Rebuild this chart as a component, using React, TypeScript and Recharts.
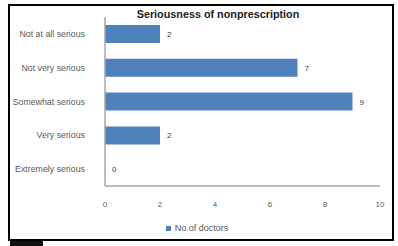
import React from "react";
import { BarChart, Bar, XAxis, YAxis, Legend } from "recharts";

const categories = [
  "Not at all serious",
  "Not very serious",
  "Somewhat serious",
  "Very serious",
  "Extremely serious",
];
const doctors = [2, 7, 9, 2, 0];
const xTicks = [0, 2, 4, 6, 8, 10];
const seriesName = "No.of doctors";
const title = "Seriousness of nonprescription";

const data = categories.map((c, i) => ({ name: c, value: doctors[i] }));

const FONT = "'Liberation Sans', Arial, sans-serif";
const GREY = "#595959";

const YTick = (props: any) => {
  const { x, y, payload } = props;
  return (
    <text x={x - 12} y={y} dy={3} textAnchor="end" fontSize={8.8} fill={GREY} fontFamily={FONT}>
      {payload.value}
    </text>
  );
};

const XTick = (props: any) => {
  const { x, y, payload } = props;
  return (
    <text x={x} y={y} dy={13} textAnchor="middle" fontSize={8} fill={GREY} fontFamily={FONT}>
      {payload.value}
    </text>
  );
};

const BarLabel = (props: any) => {
  const { x, y, width, height, value } = props;
  return (
    <text x={x + width + 7} y={y + height / 2} dy={3} fontSize={8} fill="#404040" fontFamily={FONT}>
      {value}
    </text>
  );
};

export default function App() {
  return (
    <div style={{ position: "absolute", left: 0, top: 0, width: 398, height: 246, background: "#fff", fontFamily: FONT }}>
      <div style={{ position: "absolute", left: 8, top: 4, width: 386, height: 237, border: "2px solid #000", boxSizing: "border-box" }} />
      <div style={{ position: "absolute", left: 10, top: 241, width: 33, height: 5, background: "#111" }} />
      <div style={{ position: "absolute", left: 0, top: 9, width: 436, textAlign: "center", fontSize: 10.8, fontWeight: "bold", color: "#222", lineHeight: "11px" }}>
        {title}
      </div>
      <div style={{ position: "absolute", left: 0, top: 0 }}>
        <BarChart
          width={398}
          height={246}
          layout="vertical"
          data={data}
          margin={{ top: 17, right: 18, left: 10, bottom: 30 }}
        >
          <XAxis
            type="number"
            domain={[0, 10]}
            ticks={xTicks}
            stroke="#a6a6a6"
            strokeWidth={1.5}
            axisLine={true}
            tickLine={false}
            tick={<XTick />}
            height={20}
          />
          <YAxis
            type="category"
            dataKey="name"
            width={95}
            stroke="#a6a6a6"
            strokeWidth={1.5}
            axisLine={true}
            tickLine={false}
            tick={<YTick />}
          />
          <Legend
            iconType="square"
            iconSize={5}
            wrapperStyle={{ top: 223, left: 0, width: 404, fontSize: 9, fontFamily: FONT, color: GREY }}
            formatter={(v) => <span style={{ color: GREY }}>{v}</span>}
          />
          <Bar
            dataKey="value"
            name={seriesName}
            fill="#4f81bd"
            barSize={18}
            minPointSize={0.01}
            isAnimationActive={false}
            label={<BarLabel />}
          />
        </BarChart>
      </div>
    </div>
  );
}
